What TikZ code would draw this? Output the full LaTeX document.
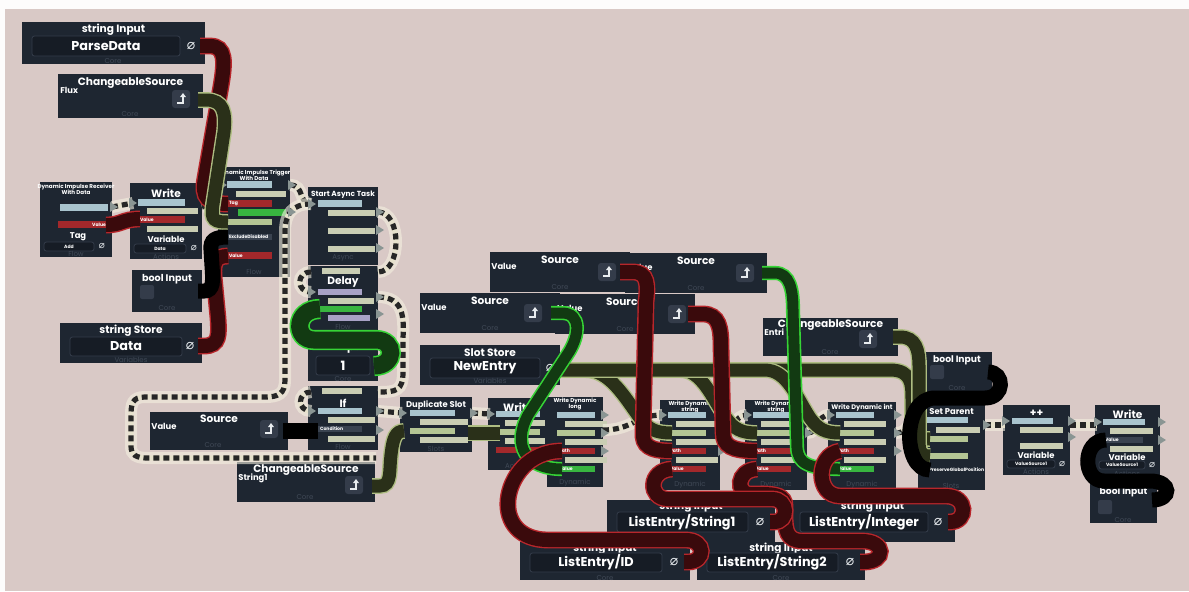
\documentclass[tikz,border=0pt]{standalone}
\usepackage{fontspec}
\setmainfont{Poppins}
\newfontfamily\symf{DejaVu Sans}
\definecolor{bgc}{HTML}{D9C9C6}
\definecolor{nodec}{HTML}{1E2631}
\definecolor{fieldc}{HTML}{161C25}
\definecolor{fieldb}{HTML}{343C4A}
\definecolor{impb}{HTML}{A9C4CE}
\definecolor{valb}{HTML}{C9CDB3}
\definecolor{slotb}{HTML}{B4C594}
\definecolor{strb}{HTML}{A3282B}
\definecolor{boolb}{HTML}{38B540}
\definecolor{lavb}{HTML}{A8A2C6}
\definecolor{darkb}{HTML}{3A4350}
\definecolor{footc}{HTML}{404956}
\definecolor{strout}{HTML}{B8262B}
\definecolor{strin}{HTML}{3A0A0C}
\definecolor{slotout}{HTML}{AEBD82}
\definecolor{slotin}{HTML}{2A3019}
\definecolor{grout}{HTML}{36D436}
\definecolor{grin}{HTML}{123A12}
\definecolor{flowlt}{HTML}{E6E1CC}
\definecolor{halo}{HTML}{F4F0E0}
\definecolor{tric}{HTML}{8A9593}
\definecolor{iconc}{HTML}{E8ECEF}
\newcounter{nn}
\newcommand\pfn[8][ttl]{\node[pfbox, minimum width=#5*0.5pt, minimum height=#6*0.5pt, anchor=north west] (#2) at (#3,#4) {};
  \node[#1] (#2t) at ({#3+#5/2},{#4+#7}) {#8};}
\newcommand\pbar[5]{\fill[#5] (#1,#2) rectangle (#3,#4);}
\newcommand\fld[4]{\draw[fill=fieldc, draw=fieldb, line width=0.4pt, rounded corners=1.2pt] (#1,#2) rectangle (#3,#4);}
\newcommand\nul[3][7]{\stepcounter{nn}\node[text=iconc, inner sep=0, font=\symf\fontsize{#1}{#1}\selectfont] (u\arabic{nn}) at (#2,#3) {⌀};}
\newcommand\lab[3][lbl]{\stepcounter{nn}\node[#1] (t\arabic{nn}) at #2 {#3};}
\newcommand\srcicon[2]{\fill[fieldb, rounded corners=1.5pt] ({#1-9},{#2-9}) rectangle ({#1+9},{#2+9});
  \draw[iconc, line width=0.7pt] ({#1-4},{#2+4}) -- ({#1+2},{#2+4}) -- ({#1+2},{#2-2});
  \fill[iconc] ({#1-1},{#2-2}) -- ({#1+2},{#2-6}) -- ({#1+5},{#2-2}) -- cycle;}
\newcommand\chk[2]{\fill[fieldb, rounded corners=1pt] (#1,#2) rectangle ({#1+14},{#2+14});}
\newcommand\ptri[2]{\fill[tric] ({#1-2},{#2-5}) -- ({#1+6},#2) -- ({#1-2},{#2+5}) -- cycle;}
\newcommand\wdbars[3]{% x, y of first bar, last bar colour
  \pbar{#1}{#2}{#1+38}{#2+6}{impb}
  \pbar{#1+8}{#2+9}{#1+50}{#2+15}{valb}
  \pbar{#1}{#2+18}{#1+38}{#2+24}{slotb}
  \pbar{#1+8}{#2+27}{#1+50}{#2+33}{valb}
  \pbar{#1}{#2+36}{#1+38}{#2+42}{strb}
  \lab[bl,anchor=west]{({#1+1},{#2+39})}{Path}
  \pbar{#1+8}{#2+45}{#1+50}{#2+51}{valb}
  \pbar{#1}{#2+54}{#1+38}{#2+60}{#3}
  \lab[bl,anchor=west]{({#1+1},{#2+57})}{Value}}
\begin{document}
\begin{tikzpicture}[x=0.5pt,y=-0.5pt,
  pfbox/.style={fill=nodec, draw=none, inner sep=0},
  ttl/.style={text=white, font=\bfseries\fontsize{5.3}{6}\selectfont, inner sep=0, align=center},
  tiny/.style={text=white, font=\bfseries\fontsize{2.8}{3.2}\selectfont, inner sep=0, align=center},
  big/.style={text=white, font=\bfseries\fontsize{6.4}{7}\selectfont, inner sep=0},
  lbl/.style={text=white, font=\bfseries\fontsize{4.2}{5}\selectfont, inner sep=0},
  foot/.style={text=footc, font=\fontsize{3.5}{4}\selectfont, inner sep=0},
  bl/.style={text=white, font=\bfseries\fontsize{2.3}{2.6}\selectfont, inner sep=0.3pt},
  strw/.style={draw=strout, double=strin, line width=0.7pt, double distance=7pt},
  slotw/.style={draw=slotout, double=slotin, line width=0.7pt, double distance=6.5pt},
  grw/.style={draw=grout, double=grin, line width=0.8pt, double distance=5.5pt},
  grw2/.style={draw=grout, double=grin, line width=0.8pt, double distance=8.5pt},
  boolw/.style={draw=black, line width=7.5pt},
  floww/.style={preaction={draw=halo, draw opacity=0.6, solid, line width=6pt},
    preaction={draw=flowlt, solid, line width=2.6pt},
    draw=black!85, line width=2.6pt, dash pattern=on 3pt off 2pt}]
\useasboundingbox (0,0) rectangle (1189,591);
\fill[white!94!bgc] (0,0) rectangle (1189,591);
\fill[bgc] (5,9) rectangle (1189,591);

% ---------- nodes ----------
\pfn{pd}{22}{22}{183}{42}{8}{string Input}
\fld{32}{36}{180}{56}
\lab[big]{(106,46)}{ParseData}
\nul{191}{46}
\lab[foot]{(113,61)}{Core}

\pfn{flux}{58}{74}{145}{44}{9}{ChangeableSource}
\lab[lbl,anchor=west]{(60,90)}{Flux}
\srcicon{181}{99}
\lab[foot]{(130,114)}{Core}

\pfn[tiny]{recv}{40}{182}{72}{75}{7}{Dynamic Impulse Receiver\\With Data}
\pbar{60}{204}{108}{211}{impb}
\pbar{58}{221}{108}{228}{strb}
\lab[bl,anchor=east]{(107,224.5)}{Value}
\lab[lbl]{(78,237)}{Tag}
\fld{44}{242}{94}{251}
\lab[bl]{(69,246.5)}{Add}
\nul[5]{102}{246.5}
\lab[foot]{(76,254)}{Flow}

\pfn{w1}{130}{183}{72}{76}{10}{Write}
\pbar{138}{199}{185}{206}{impb}
\pbar{147}{208}{198}{214}{valb}
\pbar{138}{216}{185}{223}{strb}
\lab[bl,anchor=west]{(139,219.5)}{Value}
\pbar{147}{226}{198}{232}{valb}
\lab[lbl]{(166,239)}{Variable}
\fld{134}{244}{186}{253}
\lab[bl]{(160,248.5)}{Data}
\nul[5]{194}{248.5}
\lab[foot]{(166,256.5)}{Actions}

\pfn[tiny]{trig}{218}{167}{72}{110}{8}{Dynamic Impulse Trigger\\With Data}
\pbar{227}{181}{272}{188}{impb}
\pbar{236}{191}{286}{197}{valb}
\pbar{227}{200}{272}{207}{strb}
\lab[bl,anchor=west]{(228,203.5)}{Tag}
\pbar{238}{209}{286}{216}{boolb}
\pbar{227}{219}{272}{225}{slotb}
\pbar{227}{234}{272}{240}{darkb}
\lab[bl,anchor=west]{(228,237)}{ExcludeDisabled}
\pbar{227}{252}{272}{259}{strb}
\lab[bl,anchor=west]{(228,255.5)}{Value}
\lab[foot]{(254,272)}{Flow}

\pfn[ttl,font=\bfseries\fontsize{3.7}{4}\selectfont]{async}{308}{187}{70}{78}{8}{Start Async Task}
\pbar{318}{200}{362}{207}{impb}
\pbar{328}{210}{375}{216}{valb}
\pbar{328}{228}{375}{234}{valb}
\pbar{328}{246}{375}{252}{valb}
\lab[foot]{(343,258)}{Async}

\pfn{delay}{308}{266}{70}{65}{16}{Delay}
\pbar{322}{268}{360}{274}{valb}
\pbar{318}{289}{362}{295}{lavb}
\pbar{328}{298}{374}{304}{valb}
\pbar{318}{306}{362}{312}{boolb}
\pbar{328}{315}{370}{321}{lavb}
\lab[foot]{(343,327)}{Flow}

\pfn[ttl,font=\bfseries\fontsize{4.8}{5}\selectfont]{bi1}{132}{270}{70}{42}{9}{bool Input}
\chk{140}{285}
\lab[foot]{(167,308)}{Core}

\pfn{ds}{60}{323}{142}{40}{8}{string Store}
\fld{70}{337}{182}{356}
\lab[big]{(126,346.5)}{Data}
\nul{190}{346.5}
\lab[foot]{(131,360)}{Variables}

\pfn{intIn}{308}{333}{70}{48}{15}{int Input}
\fld{316}{356}{370}{375}
\lab[big]{(343,365.5)}{1}
\lab[foot]{(343,379)}{Core}

\pfn{ifN}{308}{386}{70}{64}{17}{If}
\pbar{322}{388}{362}{394}{valb}
\pbar{318}{408}{362}{414}{impb}
\pbar{328}{417}{375}{423}{valb}
\pbar{318}{426}{362}{432}{darkb}
\lab[bl,anchor=west]{(319,429)}{Condition}
\pbar{328}{436}{375}{442}{valb}
\lab[foot]{(343,447)}{Flow}

\pfn{src1}{150}{412}{138}{38}{7}{Source}
\lab[lbl,anchor=west]{(151,426)}{Value}
\srcicon{269}{429}
\lab[foot]{(213,445)}{Core}

\pfn{csStr}{237}{462}{138}{40}{8}{ChangeableSource}
\lab[lbl,anchor=west]{(238,478)}{String1}
\srcicon{354}{485}
\lab[foot]{(305,497)}{Core}

\pfn[ttl,font=\bfseries\fontsize{4.2}{5}\selectfont]{dup}{400}{397}{72}{55}{8}{Duplicate Slot}
\pbar{410}{410}{455}{416}{impb}
\pbar{420}{419}{468}{425}{valb}
\pbar{410}{428}{455}{434}{slotb}
\pbar{420}{437}{468}{443}{valb}
\lab[foot]{(436,449)}{Slots}

\pfn{w2}{488}{398}{60}{72}{9}{Write}
\pbar{496}{411}{540}{417}{impb}
\pbar{505}{420}{545}{426}{valb}
\pbar{496}{429}{540}{435}{slotb}
\pbar{505}{438}{545}{444}{valb}
\pbar{496}{447}{540}{453}{strb}
\lab[foot]{(518,466)}{Actions}

\pfn[tiny]{wdl}{547}{397}{56}{90}{7}{Write Dynamic\\long}
\wdbars{557}{412}{boolb}
\lab[foot]{(575,483)}{Dynamic}

\pfn[tiny]{wds1}{660}{400}{60}{90}{7}{Write Dynamic\\string}
\wdbars{668}{412}{strb}
\lab[foot]{(690,485)}{Dynamic}

\pfn[tiny]{wds2}{745}{400}{62}{90}{7}{Write Dynamic\\string}
\wdbars{753}{412}{strb}
\lab[foot]{(776,485)}{Dynamic}

\pfn[ttl,font=\bfseries\fontsize{3.3}{4}\selectfont]{wdi}{828}{402}{68}{88}{6}{Write Dynamic int}
\wdbars{836}{412}{boolb}
\lab[foot]{(862,485)}{Dynamic}

\pfn{srcA}{490}{252}{140}{40}{8}{Source}
\lab[lbl,anchor=west]{(491,266)}{Value}
\srcicon{607}{272}
\lab[foot]{(560,287)}{Core}
\pfn{srcB}{625}{253}{142}{40}{8}{Source}
\lab[lbl,anchor=west]{(627,267)}{Value}
\srcicon{745}{273}
\lab[foot]{(696,288)}{Core}

\pfn{srcC}{420}{293}{140}{40}{8}{Source}
\lab[lbl,anchor=west]{(421,307)}{Value}
\srcicon{533}{313}
\lab[foot]{(490,328)}{Core}
\pfn{srcD}{555}{294}{140}{40}{8}{Source}
\lab[lbl,anchor=west]{(557,308)}{Value}
\srcicon{677}{314}
\lab[foot]{(625,329)}{Core}

\pfn{ss}{420}{345}{140}{40}{8}{Slot Store}
\fld{430}{358}{540}{378}
\lab[big]{(485,368)}{NewEntry}
\nul{550}{368}
\lab[foot]{(490,381)}{Variables}

\pfn{ce}{763}{318}{135}{38}{7}{ChangeableSource}
\lab[lbl,anchor=west]{(764,332)}{Entri}
\srcicon{868}{339}
\lab[foot]{(830,352)}{Core}

\pfn[ttl,font=\bfseries\fontsize{4.6}{5}\selectfont]{bi2}{922}{352}{70}{40}{8}{bool Input}
\chk{930}{365}
\lab[foot]{(957,388)}{Core}

\pfn[ttl,font=\bfseries\fontsize{4.2}{5}\selectfont]{sp}{918}{405}{67}{85}{7}{Set Parent}
\pbar{927}{417}{968}{423}{impb}
\pbar{936}{427}{980}{433}{valb}
\pbar{927}{436}{968}{442}{slotb}
\pbar{927}{453}{968}{459}{slotb}
\lab[bl,anchor=west]{(928,470)}{PreserveGlobalPosition}
\lab[foot]{(951,486)}{Slots}

\pfn{inc}{1003}{405}{67}{70}{8}{++}
\pbar{1012}{418}{1053}{424}{impb}
\pbar{1020}{427}{1063}{433}{valb}
\pbar{1020}{443}{1063}{449}{valb}
\lab[lbl]{(1036,455)}{Variable}
\fld{1007}{460}{1055}{468}
\lab[bl]{(1031,464)}{ValueSource1}
\nul[5]{1062}{464}
\lab[foot]{(1036,472)}{Actions}

\pfn{w3}{1095}{405}{65}{72}{9}{Write}
\pbar{1103}{419}{1145}{425}{impb}
\pbar{1110}{428}{1153}{434}{valb}
\pbar{1103}{437}{1143}{443}{darkb}
\lab[bl,anchor=west]{(1104,440)}{Value}
\pbar{1110}{446}{1153}{452}{valb}
\lab[lbl]{(1127,457)}{Variable}
\fld{1099}{461}{1145}{469}
\lab[bl]{(1122,465)}{ValueSource1}
\nul[5]{1152}{465}
\lab[foot]{(1127,474)}{Actions}

\pfn[ttl,font=\bfseries\fontsize{4.6}{5}\selectfont]{bi3}{1090}{478}{67}{45}{14}{bool Input}
\chk{1098}{500}
\lab[foot]{(1123,520)}{Core}

\pfn{le1}{607}{500}{168}{42}{7}{string Input}
\fld{617}{512}{748}{532}
\lab[big]{(682,522)}{ListEntry/String1}
\nul{760}{522}
\pfn{leI}{790}{500}{165}{42}{7}{string Input}
\fld{800}{512}{928}{532}
\lab[big]{(864,522)}{ListEntry/Integer}
\nul{938}{522}
\pfn{leD}{520}{542}{170}{38}{7}{string Input}
\fld{530}{553}{662}{572}
\lab[big]{(596,562.5)}{ListEntry/ID}
\nul{674}{562.5}
\lab[foot]{(605,578)}{Core}
\pfn{le2}{697}{542}{168}{38}{7}{string Input}
\fld{707}{553}{838}{572}
\lab[big]{(772,562.5)}{ListEntry/String2}
\nul{850}{562.5}
\lab[foot]{(781,578)}{Core}

% ---------- ports ----------
\coordinate (pdO) at (200,46);
\coordinate (fluxO) at (198,100);
\coordinate (recvO) at (112,207);
\coordinate (recvV) at (106,225);
\coordinate (w1I) at (133,203);
\coordinate (w1O) at (202,207);
\coordinate (w1V) at (140,219);
\coordinate (trigI) at (221,185);
\coordinate (trigO) at (290,185);
\coordinate (trigTag) at (228,204);
\coordinate (trigS) at (228,222);
\coordinate (trigE) at (228,237);
\coordinate (trigV) at (228,256);
\coordinate (b1O) at (198,291);
\coordinate (dsO) at (198,346);
\coordinate (asyncI) at (311,204);
\coordinate (asyncO) at (378,212);
\coordinate (asyncR) at (378,272);
\coordinate (delL) at (311,272);
\coordinate (delI) at (311,292);
\coordinate (delO) at (378,297);
\coordinate (delD) at (320,309);
\coordinate (intO) at (374,366);
\coordinate (ifR) at (378,392);
\coordinate (ifL) at (311,392);
\coordinate (ifI) at (311,411);
\coordinate (ifO) at (378,411);
\coordinate (ifC) at (318,431);
\coordinate (src1O) at (283,431);
\coordinate (loopEnd) at (376,458);
\coordinate (csO) at (372,486);
\coordinate (dupI) at (402,413);
\coordinate (dupS) at (404,431);
\coordinate (dupO) at (472,413);
\coordinate (dupSO) at (468,433);
\coordinate (w2I) at (490,414);
\coordinate (w2S) at (500,433);
\coordinate (wdlO) at (603,430);
\coordinate (wdlP) at (562,451);
\coordinate (wdlV) at (562,469);
\coordinate (wds1I) at (662,415);
\coordinate (wds1O) at (720,433);
\coordinate (wds1S) at (672,433);
\coordinate (wds1P) at (672,451);
\coordinate (wds1V) at (672,469);
\coordinate (wds2I) at (747,415);
\coordinate (wds2O) at (807,433);
\coordinate (wds2S) at (757,433);
\coordinate (wds2P) at (757,451);
\coordinate (wds2V) at (757,469);
\coordinate (wdiI) at (830,415);
\coordinate (wdiO) at (896,433);
\coordinate (wdiS) at (840,433);
\coordinate (wdiP) at (840,451);
\coordinate (wdiV) at (840,469);
\coordinate (srcAO) at (620,272);
\coordinate (srcBO) at (762,273);
\coordinate (srcCO) at (551,313);
\coordinate (srcDO) at (688,314);
\coordinate (ssO) at (556,370);
\coordinate (ceO) at (893,337);
\coordinate (bi2O) at (988,372);
\coordinate (spI) at (920,420);
\coordinate (spO) at (985,425);
\coordinate (spS) at (930,439);
\coordinate (spN) at (930,456);
\coordinate (spP) at (930,470);
\coordinate (incI) at (1005,425);
\coordinate (incO) at (1070,425);
\coordinate (w3I) at (1097,425);
\coordinate (w3V) at (1106,440);
\coordinate (bi3O) at (1152,500);
\coordinate (le1O) at (770,522);
\coordinate (leIO) at (948,522);
\coordinate (leDO) at (684,562);
\coordinate (le2O) at (860,562);

% ---------- impulse (flow) wires ----------
\draw[floww] (recvO) -- (w1I);
\draw[floww] (w1O) .. controls (213,207) and (209,185) .. (trigI);
\draw[floww] (trigO) .. controls (305,185) and (298,204) .. (asyncI);
\draw[floww] (asyncI) .. controls (292,204) and (285,214) .. (285,232) -- (285,380) .. controls (285,394) and (278,397) .. (265,397) -- (145,397) .. controls (132,397) and (131,404) .. (131,416) -- (131,446) .. controls (131,455) and (136,458) .. (148,458) -- (loopEnd);
\draw[floww] (asyncO) .. controls (402,212) and (402,272) .. (asyncR);
\draw[floww] (delL) .. controls (296,272) and (296,292) .. (delI);
\draw[floww] (delO) .. controls (404,297) and (404,318) .. (403,338) -- (403,372) .. controls (403,391) and (396,392) .. (ifR);
\draw[floww] (ifL) .. controls (297,392) and (297,411) .. (ifI);
\draw[floww] (ifO) -- (dupI);
\draw[floww] (dupO) -- (w2I);
\draw[floww] (wdlO) .. controls (632,430) and (636,415) .. (wds1I);
\draw[floww] (wds1O) .. controls (735,433) and (733,415) .. (wds2I);
\draw[floww] (wds2O) .. controls (820,433) and (815,415) .. (wdiI);
\draw[floww] (wdiO) .. controls (910,433) and (905,420) .. (spI);
\draw[floww] (spO) -- (incI);
\draw[floww] (incO) -- (w3I);

% ---------- port arrows ----------
\ptri{112}{207}\ptri{131}{203}\ptri{221}{185}\ptri{290}{185}\ptri{290}{212}
\ptri{310}{204}\ptri{378}{212}\ptri{378}{230}\ptri{378}{248}
\ptri{310}{292}\ptri{378}{297}\ptri{378}{314}
\ptri{310}{411}\ptri{378}{411}\ptri{378}{430}
\ptri{401}{413}\ptri{472}{413}\ptri{489}{414}
\ptri{603}{415}\ptri{603}{433}\ptri{603}{451}
\ptri{661}{415}\ptri{720}{415}\ptri{720}{433}\ptri{720}{451}
\ptri{746}{415}\ptri{807}{415}\ptri{807}{433}
\ptri{829}{415}\ptri{896}{415}\ptri{896}{433}\ptri{896}{451}
\ptri{919}{420}\ptri{985}{425}\ptri{1004}{421}\ptri{1070}{421}\ptri{1070}{437}
\ptri{1096}{422}\ptri{1160}{422}\ptri{1160}{440}

% ---------- value wires ----------
\draw[strw] (recvV) .. controls (122,225) and (122,219) .. (w1V);
\draw[strw] (pdO) -- (210,46) .. controls (226,46) and (225,62) .. (221,86) -- (205,178) .. controls (201,198) and (208,204) .. (trigTag);
\draw[slotw] (fluxO) -- (206,100) .. controls (224,100) and (226,113) .. (224,132) -- (213,204) .. controls (210,221) and (215,222) .. (trigS);
\draw[strw] (dsO) -- (204,346) .. controls (220,346) and (219,334) .. (218,318) -- (214,276) .. controls (213,262) and (216,256) .. (trigV);
\draw[boolw] (b1O) -- (204,291) .. controls (214,291) and (213,280) .. (212,266) -- (211,250) .. controls (210,240) and (215,237) .. (trigE);
\draw[grw2] (intO) .. controls (396,366) and (396,340) .. (376,340) -- (314,340) .. controls (294,340) and (294,309) .. (delD);
\draw[boolw, line width=8pt] (src1O) -- (ifC);
\draw[slotw] (csO) -- (380,486) .. controls (392,486) and (389,470) .. (391,455) .. controls (393,437) and (396,431) .. (dupS);
\draw[slotw] (dupSO) -- (w2S);
% slot store fan-out
\draw[slotw] (ssO) -- (890,370) .. controls (912,370) and (912,385) .. (912,400) -- (912,425) .. controls (912,437) and (916,439) .. (spS);
\draw[slotw] (ssO) -- (585,370) .. controls (610,370) and (625,398) .. (640,418) .. controls (648,429) and (655,433) .. (wds1S);
\draw[slotw] (ssO) -- (680,370) .. controls (702,370) and (712,398) .. (726,418) .. controls (734,429) and (741,433) .. (wds2S);
\draw[slotw] (ssO) -- (765,370) .. controls (787,370) and (797,398) .. (810,418) .. controls (818,429) and (825,433) .. (wdiS);
\draw[slotw] (ceO) -- (900,337) .. controls (916,337) and (919,350) .. (919,366) -- (919,440) .. controls (919,452) and (921,456) .. (spN);
% green
\draw[grw] (srcBO) -- (775,273) .. controls (790,273) and (793,290) .. (793,310) -- (797,448) .. controls (798,463) and (808,469) .. (wdiV);
\draw[grw] (srcCO) -- (562,313) .. controls (582,313) and (579,336) .. (569,352) -- (528,415) .. controls (512,445) and (525,469) .. (wdlV);
% red from sources
\draw[strw] (srcAO) -- (633,272) .. controls (648,272) and (648,285) .. (646,302) -- (643,432) .. controls (642,446) and (650,451) .. (wds1P);
\draw[strw] (srcDO) -- (703,314) .. controls (719,314) and (721,328) .. (721,346) -- (723,432) .. controls (723,446) and (731,451) .. (wds2P);
% red from list entries
\draw[strw] (leDO) -- (688,562) .. controls (706,562) and (706,540) .. (686,540) -- (548,540) .. controls (520,540) and (506,522) .. (508,500) .. controls (510,478) and (528,451) .. (wdlP);
\draw[strw] (le2O) -- (864,562) .. controls (886,562) and (886,541) .. (862,541) -- (802,541) .. controls (787,541) and (785,530) .. (785,516) -- (785,506) .. controls (785,496) and (776,494) .. (762,494) -- (750,494) .. controls (736,494) and (736,470) .. (wds2V);
\draw[strw] (le1O) -- (774,522) .. controls (789,522) and (789,499) .. (772,499) -- (668,499) .. controls (648,499) and (648,470) .. (wds1V);
\draw[strw] (leIO) -- (950,522) .. controls (968,522) and (968,496) .. (946,496) -- (840,496) .. controls (816,496) and (815,455) .. (wdiP);
% black bool wires
\draw[boolw] (bi2O) .. controls (1005,372) and (1005,398) .. (985,398) -- (935,398) .. controls (902,398) and (902,470) .. (spP);
\draw[boolw] (bi3O) .. controls (1172,500) and (1172,481) .. (1150,481) -- (1104,481) .. controls (1082,481) and (1082,440) .. (w3V);
\end{tikzpicture}
\end{document}
